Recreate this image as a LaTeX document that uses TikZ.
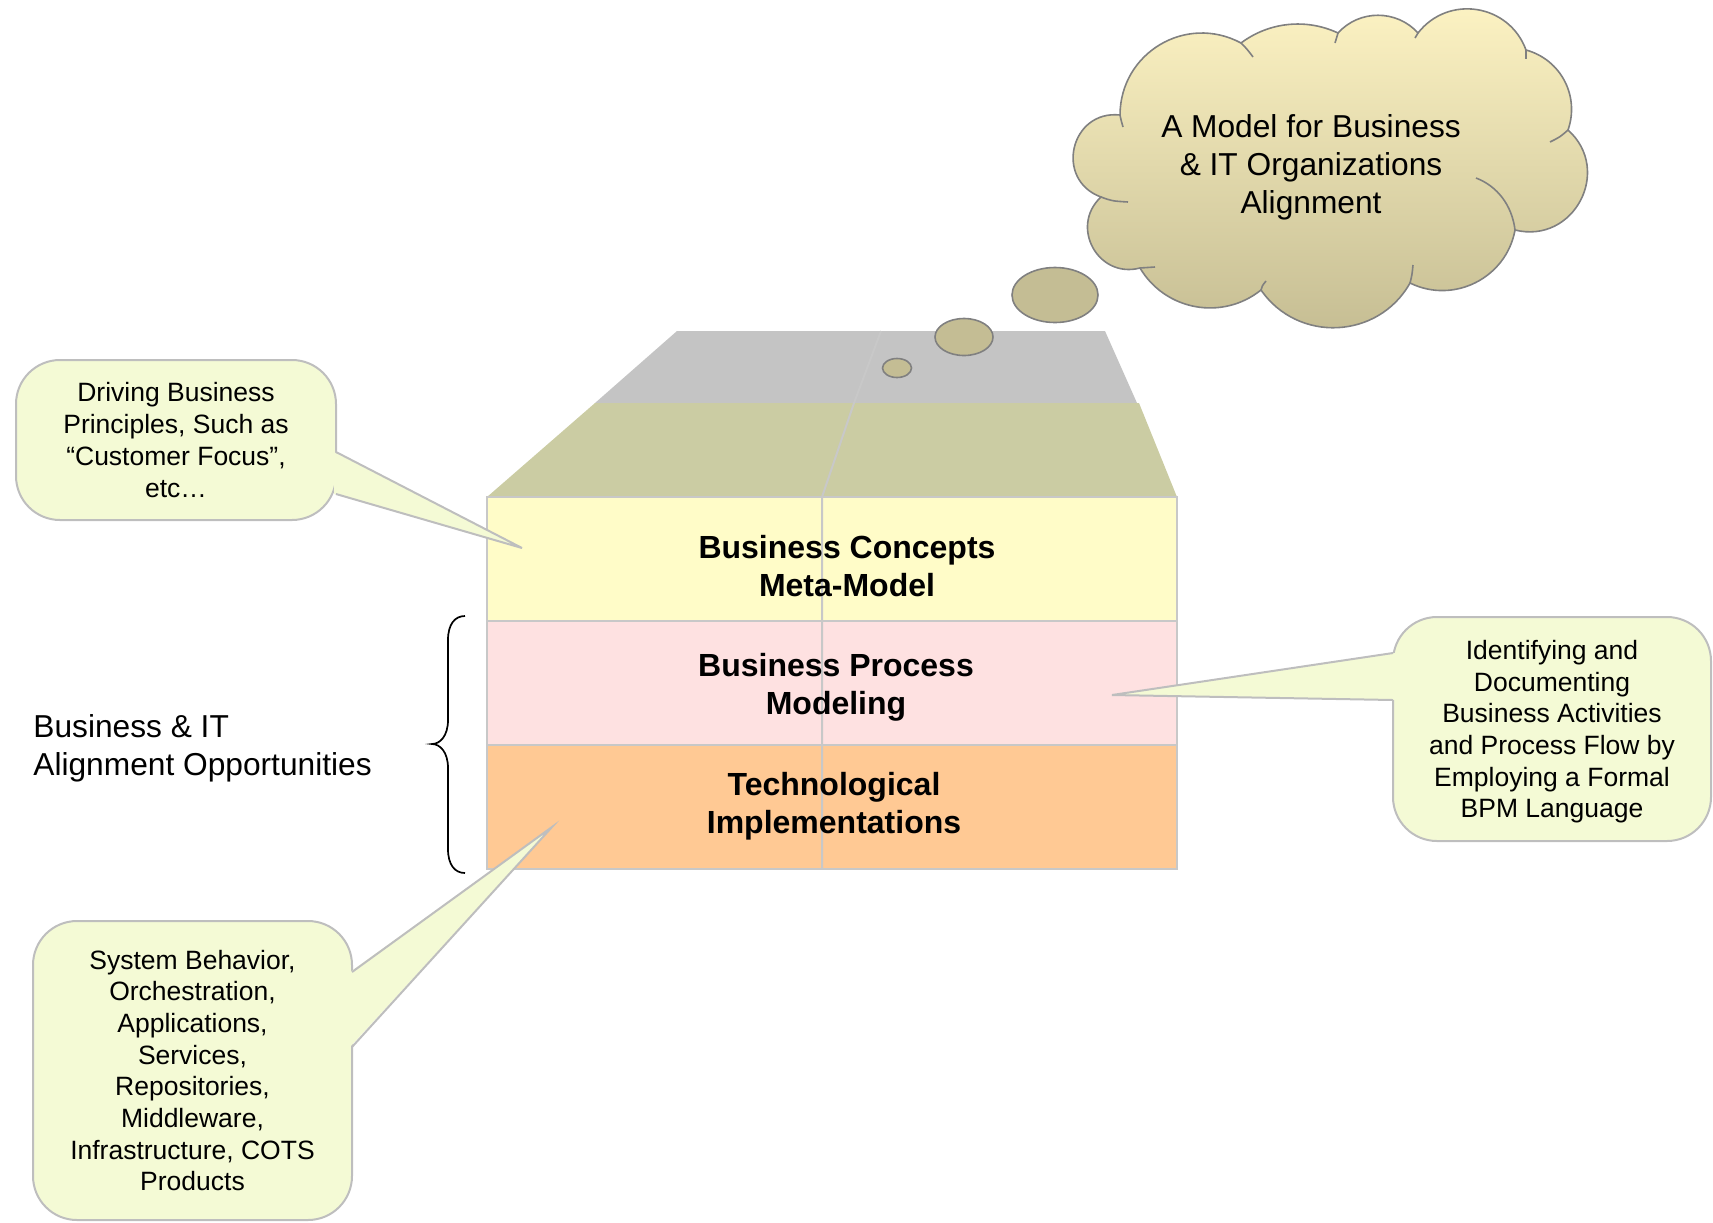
\documentclass[tikz,border=0pt]{standalone}
\usepackage{fontspec}
\setmainfont{Liberation Sans}
\usepackage{xcolor}
\usetikzlibrary{shapes,positioning,calc}

\definecolor{conceptfill}{HTML}{FFFCC8}
\definecolor{processfill}{HTML}{FEE1E1}
\definecolor{techfill}{HTML}{FFC994}
\definecolor{roofgray}{HTML}{C4C4C4}
\definecolor{roofolive}{HTML}{CBCCA3}
\definecolor{slabline}{HTML}{C8C8C8}
\definecolor{notefill}{HTML}{F4FAD5}
\definecolor{noteline}{HTML}{BEBEBE}
\definecolor{cloudtop}{HTML}{FEF4C4}
\definecolor{cloudbottom}{HTML}{C4BC92}
\definecolor{cloudline}{HTML}{808080}
\definecolor{bubblefill}{HTML}{C4BD94}

\begin{document}
\begin{tikzpicture}[x=0.5pt, y=-0.5pt,
    slab/.style={rectangle, draw=slabline, line width=1pt, minimum width=345pt, minimum height=62pt, inner sep=0pt, outer sep=0pt},
    slabtext/.style={align=center, font=\fontsize{16}{19}\selectfont\bfseries},
    balloon/.style={rectangle, rounded corners=22pt, draw=noteline, line width=1pt, fill=notefill, align=center, font=\fontsize{13.25}{15.85}\selectfont, inner sep=0pt, outer sep=0pt},
    thought/.style={ellipse, draw=cloudline, line width=0.8pt, fill=bubblefill, inner sep=0pt},
    puffline/.style={cloudline, line width=0.8pt}]
    \useasboundingbox (0,0) rectangle (1713,1222);

    % roof of the stack
    \fill[roofgray] (677,331) -- (1105,331) -- (1137,403) -- (595,403) -- cycle;
    \fill[roofolive] (595,403) -- (1139,403) -- (1177,497) -- (487,497) -- cycle;

    % the three layers
    \node (concepts) [slab, fill=conceptfill] at (832,559) {};
    \node (process) [slab, fill=processfill, below=0pt of concepts] {};
    \node (tech) [slab, fill=techfill, below=0pt of process] {};
    \draw [slabline, line width=1pt] (881,331) -- (854,403) -- (822,497) -- (822,869);

    \node (conceptstext) [slabtext] at (847,566) {Business Concepts\\Meta-Model};
    \node (processtext) [slabtext] at (836,687) {Business Process\\Modeling};
    \node (techtext) [slabtext] at (834,806) {Technological\\Implementations};

    % brace and its label
    \node (alignment) [anchor=west, align=left, inner sep=0pt, font=\fontsize{15.85}{19}\selectfont] at (33,748) {Business \& IT\\Alignment Opportunities};
    \draw [line width=0.85pt] (465,616) .. controls (455,616) and (448,624) .. (448,640) -- (448,720)
        .. controls (448,736) and (440,744) .. (432,744) .. controls (440,744) and (448,752) .. (448,768)
        -- (448,849) .. controls (448,865) and (455,873) .. (465,873);

    % callouts
    \node (principles) [balloon, minimum width=160pt, minimum height=80pt] at (176,440) {Driving Business\\Principles, Such as\\“Customer Focus”,\\etc…};
    \coordinate (principlestip) at (522,548);
    \fill [notefill] ($(principles.east)+(-2,12)$) -- (principlestip) -- ($(principles.east)+(-2,54)$) -- cycle;
    \draw [noteline, line width=1pt] ($(principles.east)+(0,12)$) -- (principlestip) -- ($(principles.east)+(0,54)$);

    \node (bpm) [balloon, minimum width=159pt, minimum height=112pt, text depth=0pt] at (1552,729) {Identifying and\\Documenting\\Business Activities\\and Process Flow by\\Employing a Formal\\BPM Language};
    \coordinate (bpmtip) at (1112,695);
    \fill [notefill] ($(bpm.west)+(2,-76)$) -- (bpmtip) -- ($(bpm.west)+(2,-29)$) -- cycle;
    \draw [noteline, line width=1pt] ($(bpm.west)+(0,-76)$) -- (bpmtip) -- ($(bpm.west)+(0,-29)$);

    \node (systems) [balloon, minimum width=159.5pt, minimum height=149.5pt] at (192.5,1070.5) {System Behavior,\\Orchestration,\\Applications,\\Services,\\Repositories,\\Middleware,\\Infrastructure, COTS\\Products};
    \coordinate (systemstip) at (552,827);
    \fill [notefill] ($(systems.east)+(-2,-98.5)$) -- (systemstip) -- ($(systems.east)+(-2,-23.5)$) -- cycle;
    \draw [noteline, line width=1pt] ($(systems.east)+(0,-98.5)$) -- (systemstip) -- ($(systems.east)+(0,-23.5)$);

    % thought cloud
    \draw [puffline, top color=cloudtop, bottom color=cloudbottom]
        (1120,115) to[bend left=59, looseness=1.13] (1241,43)
        to[bend left=31, looseness=0.92] (1338,33)
        to[bend left=48, looseness=1.02] (1418,33)
        to[bend left=61, looseness=1.15] (1526,50)
        to[bend left=47, looseness=1.02] (1568,130)
        to[bend left=76, looseness=1.37] (1515,230)
        to[bend left=53, looseness=1.06] (1410,283)
        to[bend left=58, looseness=1.11] (1261,290)
        to[bend left=49, looseness=1.03] (1140,268)
        to[bend left=76, looseness=1.37] (1101,197)
        to[bend left=83, looseness=1.52] (1120,115) -- cycle;
    % inner puff marks
    \draw [puffline] (1120,115) .. controls (1121,120) .. (1123,127);
    \draw [puffline] (1101,197) .. controls (1112,201) .. (1128,202);
    \draw [puffline] (1140,268) .. controls (1147,268) .. (1155,267);
    \draw [puffline] (1261,290) .. controls (1262,286) .. (1266,281);
    \draw [puffline] (1410,283) .. controls (1412,275) .. (1413,265);
    \draw [puffline] (1515,230) .. controls (1512,205) and (1497,186) .. (1476,178);
    \draw [puffline] (1568,130) .. controls (1560,137) .. (1550,142);
    \draw [puffline] (1526,50) .. controls (1526,54) .. (1526,59);
    \draw [puffline] (1418,33) .. controls (1417,35) .. (1415,38);
    \draw [puffline] (1338,33) .. controls (1336,38) .. (1335,43);
    \draw [puffline] (1241,43) .. controls (1247,49) .. (1253,57);
    \node (model) [align=center, font=\fontsize{15.85}{19}\selectfont] at (1311,167) {A Model for Business\\\& IT Organizations\\Alignment};

    \node (bubblebig) [thought, minimum width=43pt, minimum height=27.5pt] at (1055,295) {};
    \node (bubblemid) [thought, minimum width=29pt, minimum height=18.5pt] at (964,337) {};
    \node (bubblesmall) [thought, minimum width=14.5pt, minimum height=9.5pt] at (897,368) {};
\end{tikzpicture}
\end{document}
